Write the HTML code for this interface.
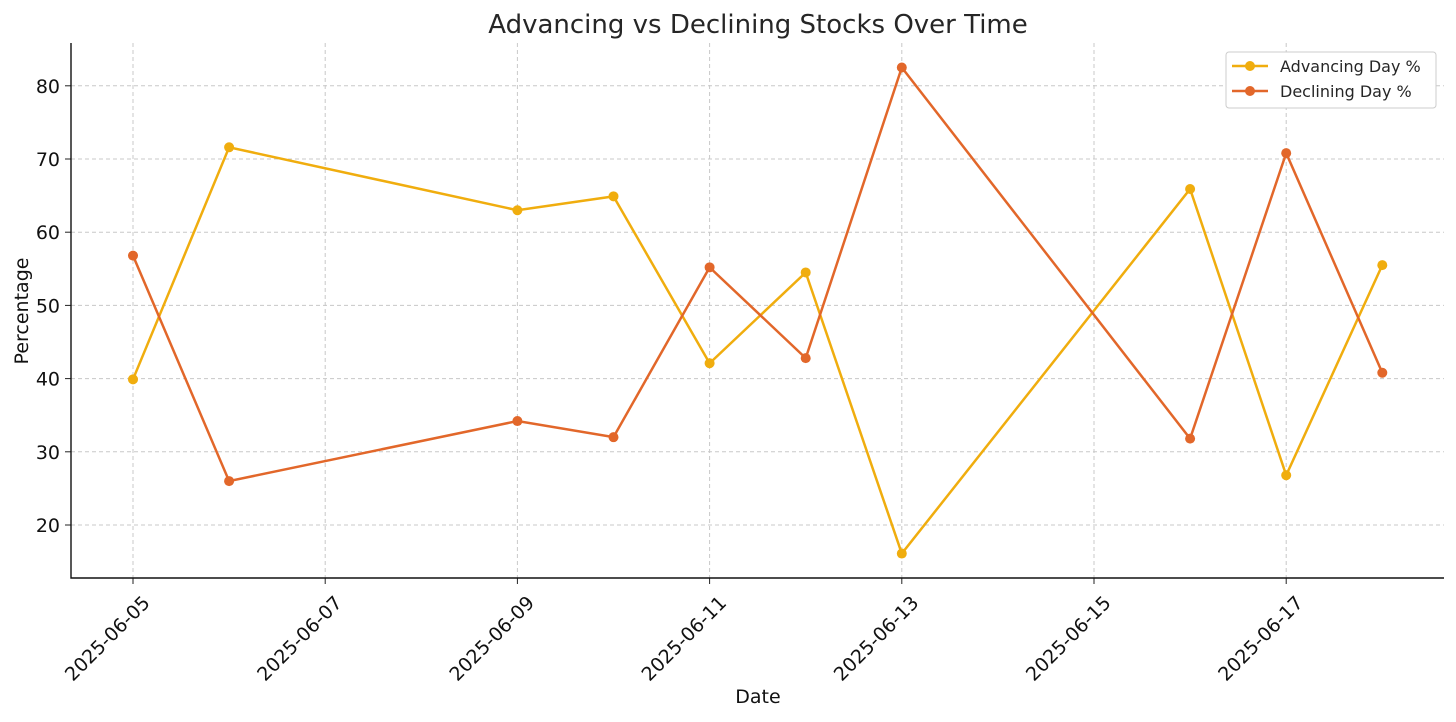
<!DOCTYPE html>
<html><head><meta charset="utf-8"><style>
body{margin:0;background:#fff;}
svg{display:block;font-family:"DejaVu Sans","Liberation Sans",sans-serif;}
</style></head><body>
<svg id="chart" width="1456" height="722">
<text x="758" y="33" text-anchor="middle" font-size="26" fill="#262626">Advancing vs Declining Stocks Over Time</text>
<g id="grid"></g>
<g id="axes"></g>
<g id="series"></g>
<text x="758" y="703" text-anchor="middle" font-size="19" fill="#111">Date</text>
<text transform="translate(28,311) rotate(-90)" text-anchor="middle" font-size="19" fill="#111">Percentage</text>
<g>
<rect x="1226" y="52" width="210" height="56" rx="3" fill="#fff" stroke="#ccc"/>
<g>
<line x1="1232" y1="66" x2="1268" y2="66" stroke="#F0AD0E" stroke-width="2.5"/>
<circle cx="1250" cy="66" r="5" fill="#F0AD0E"/>
<text x="1280" y="72" font-size="16" fill="#262626">Advancing Day %</text></g>
<g>
<line x1="1232" y1="91" x2="1268" y2="91" stroke="#E2672A" stroke-width="2.5"/>
<circle cx="1250" cy="91" r="5" fill="#E2672A"/>
<text x="1280" y="97" font-size="16" fill="#262626">Declining Day %</text></g>
</g>
</svg>
<script>
const dates=["2025-06-05","2025-06-06","2025-06-09","2025-06-10","2025-06-11","2025-06-12","2025-06-13","2025-06-16","2025-06-17","2025-06-18"];
const advancing=[39.9,71.6,63.0,64.9,42.1,54.5,16.1,65.9,26.8,55.5];
const declining=[56.8,26.0,34.2,32.0,55.2,42.8,82.5,31.8,70.8,40.8];
const xTicks=["2025-06-05","2025-06-07","2025-06-09","2025-06-11","2025-06-13","2025-06-15","2025-06-17"];
const yTicks=[20,30,40,50,60,70,80];
const NS="http://www.w3.org/2000/svg";
const day0=Date.parse("2025-06-05");
function xs(d){return 133+(Date.parse(d)-day0)/86400000*96.1;}
function ys(v){return 525-(v-20)*7.32;}
function mk(tag,attrs,parent){const e=document.createElementNS(NS,tag);for(const k in attrs)e.setAttribute(k,attrs[k]);parent.appendChild(e);return e;}
const grid=document.getElementById('grid'),axes=document.getElementById('axes'),series=document.getElementById('series');
xTicks.forEach(t=>{const x=xs(t);
const g=mk('line',{x1:x,x2:x,y1:43,y2:578,stroke:'#c8c8c8','stroke-dasharray':'4,3','stroke-width':1},grid);


const tk=mk('line',{x1:x,x2:x,y1:578,y2:584,stroke:'#222'},axes);


const lb=mk('text',{transform:`translate(${x+18},${604}) rotate(-45)`,'text-anchor':'end','font-size':19,fill:'#111'},axes);
lb.textContent=t;

});
yTicks.forEach(t=>{const y=ys(t);
const g=mk('line',{x1:71,x2:1444,y1:y,y2:y,stroke:'#c8c8c8','stroke-dasharray':'4,3','stroke-width':1},grid);


const tk=mk('line',{x1:65,x2:71,y1:y,y2:y,stroke:'#222'},axes);


const lb=mk('text',{x:60,y:y+7,'text-anchor':'end','font-size':19,fill:'#111'},axes);
lb.textContent=t;

});
const ax=mk('path',{d:'M71,43 V578 H1444',fill:'none',stroke:'#111','stroke-width':1.4},axes);


function draw(vals,color,name){
const p=mk('polyline',{points:vals.map((v,i)=>xs(dates[i])+','+ys(v)).join(' '),fill:'none',stroke:color,'stroke-width':2.5},series);


vals.forEach((v,i)=>{const c=mk('circle',{cx:xs(dates[i]),cy:ys(v),r:5,fill:color},series);

});}
draw(advancing,'#F0AD0E','advancing');
draw(declining,'#E2672A','declining');
</script>
</body></html>
